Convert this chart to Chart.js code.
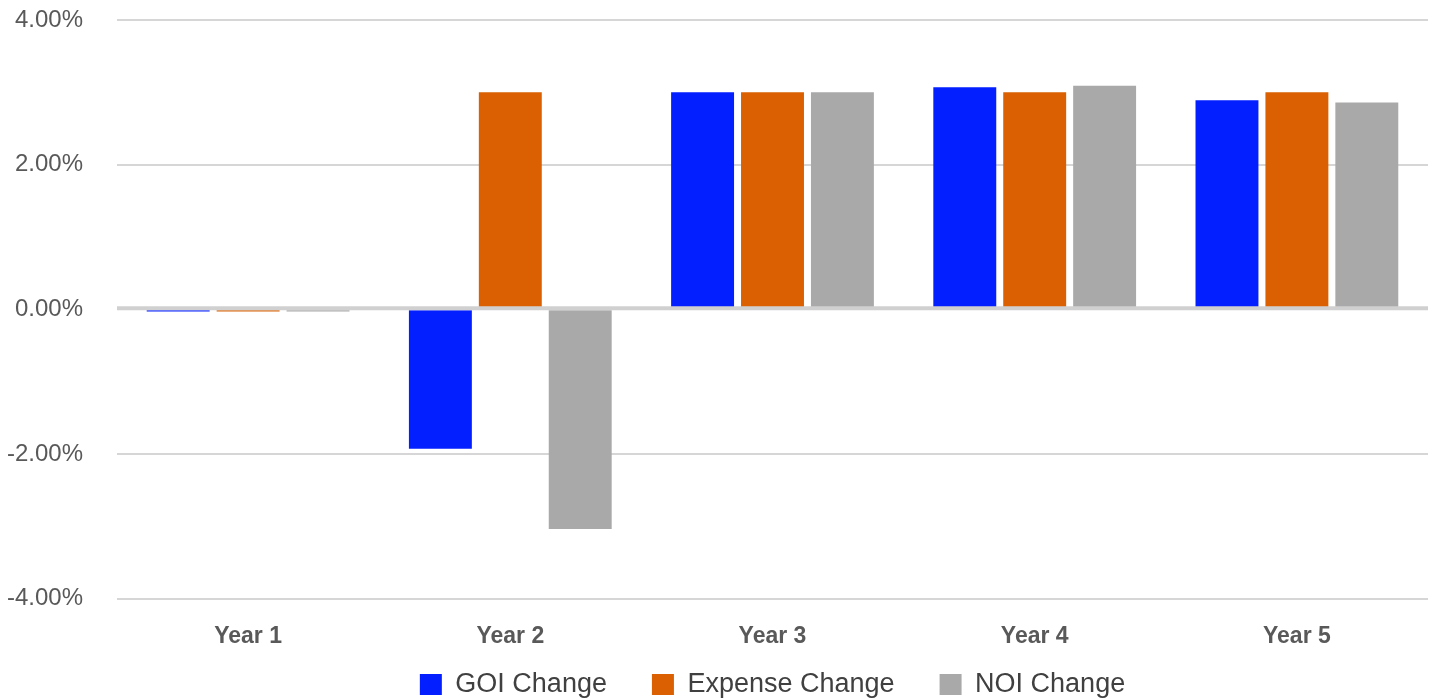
<!DOCTYPE html>
<html>
<head>
<meta charset="utf-8">
<title>GOI / Expense / NOI Change</title>
<script src="https://cdn.jsdelivr.net/npm/chart.js@4.4.1/dist/chart.umd.min.js"></script>
<style>
    html, body { margin: 0; padding: 0; background: #ffffff; }
    #wrap { position: relative; width: 1433px; height: 700px; }
</style>
</head>
<body>
<div id="wrap"><canvas id="changeChart"></canvas></div>
<script>
// Year-over-year changes, in percent
const years = ['Year 1', 'Year 2', 'Year 3', 'Year 4', 'Year 5'];
const goiChange = [-0.03, -1.93, 3.00, 3.07, 2.89];
const expenseChange = [-0.03, 3.00, 3.00, 3.00, 3.00];
const noiChange = [-0.03, -3.04, 3.00, 3.09, 2.86];
const yTicks = [-4, -2, 0, 2, 4];

const FONT = "'Liberation Sans', Arial, Helvetica, sans-serif";

// Zero baseline is painted over the bars
const zeroLine = {
    id: 'zeroLine',
    afterDatasetsDraw(chart) {
        const { ctx, chartArea, scales } = chart;
        const y = scales.y.getPixelForValue(0);
        ctx.save();
        ctx.strokeStyle = '#d0d0d0';
        ctx.lineWidth = 4;
        ctx.beginPath();
        ctx.moveTo(chartArea.left, y - 1);
        ctx.lineTo(chartArea.right, y - 1);
        ctx.stroke();
        ctx.restore();
    }
};

// Centre the legend row under the plot area and pull it up closer to the axis
const legendUnderPlot = {
    id: 'legendUnderPlot',
    afterLayout(chart) {
        const lg = chart.legend;
        if (!lg) return;
        lg.left = chart.chartArea.left;
        lg.right = chart.chartArea.right;
        lg.top -= 24;
        lg.height += 24;
    }
};

const ctx = document.getElementById('changeChart').getContext('2d');

new Chart(ctx, {
    type: 'bar',
    data: {
        labels: years,
        datasets: [
            { label: 'GOI Change', data: goiChange, backgroundColor: '#031fff' },
            { label: 'Expense Change', data: expenseChange, backgroundColor: '#da6001' },
            { label: 'NOI Change', data: noiChange, backgroundColor: '#a9a9a9' }
        ]
    },
    options: {
        responsive: true,
        maintainAspectRatio: false,
        animation: false,
        categoryPercentage: 0.8,
        barPercentage: 0.9,
        layout: {
            padding: { left: 8, right: 5, top: 20, bottom: 0 }
        },
        plugins: {
            tooltip: { enabled: false },
            legend: {
                position: 'bottom',
                maxHeight: 50,
                labels: {
                    boxWidth: 22,
                    boxHeight: 21,
                    padding: 45,
                    color: '#404040',
                    font: { family: FONT, size: 27 }
                }
            }
        },
        scales: {
            x: {
                grid: { display: false, drawTicks: false },
                border: { display: false },
                ticks: {
                    padding: 24,
                    color: '#595959',
                    font: { family: FONT, size: 23, weight: 'bold' }
                },
                afterFit(scale) {
                    scale.height = 51.5;
                    scale.paddingLeft = 0;
                    scale.paddingRight = 0;
                }
            },
            y: {
                min: -4,
                max: 4,
                afterBuildTicks(scale) {
                    scale.ticks = yTicks.map(v => ({ value: v }));
                },
                grid: {
                    color: '#d6d6d6',
                    lineWidth: 2,
                    drawTicks: false
                },
                border: { display: false },
                ticks: {
                    padding: 34,
                    color: '#595959',
                    font: { family: FONT, size: 24 },
                    callback: v => v.toFixed(2) + '%'
                },
                afterFit(scale) {
                    scale.width = 109;
                    scale.paddingTop = 0;
                    scale.paddingBottom = 0;
                }
            }
        }
    },
    plugins: [zeroLine, legendUnderPlot]
});
</script>
</body>
</html>
